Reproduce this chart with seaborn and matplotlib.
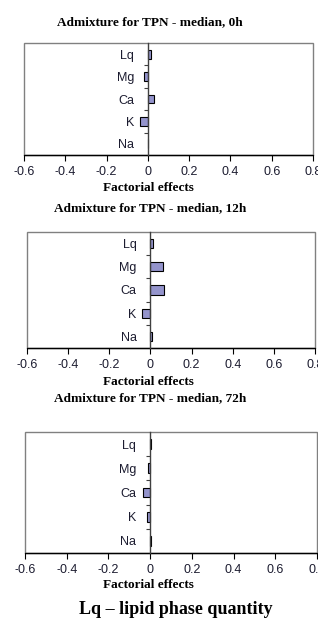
import matplotlib
matplotlib.use("Agg")
import matplotlib.pyplot as plt
import seaborn as sns
import pandas as pd
from matplotlib.patches import Rectangle

# factors, top to bottom
factors = ['Lq', 'Mg', 'Ca', 'K', 'Na']

# factorial effects
effects_0h = [0.015, -0.018, 0.030, -0.036, 0.003]
effects_12h = [0.013, 0.060, 0.068, -0.040, 0.010]
effects_72h = [0.002, -0.008, -0.032, -0.014, 0.002]

titles = ['Admixture for TPN - median, 0h',
          'Admixture for TPN - median, 12h',
          'Admixture for TPN - median, 72h']
x_ticks = [-0.6, -0.4, -0.2, 0, 0.2, 0.4, 0.6, 0.8]
x_ticklabels = ['-0.6', '-0.4', '-0.2', '0', '0.2', '0.4', '0.6', '0.8']
caption = 'Lq \u2013 lipid phase quantity'

sns.set_style('white')
plt.rcParams['font.family'] = ['Liberation Sans', 'DejaVu Sans']

W, H = 318, 621
fig = plt.figure(figsize=(W / 100, H / 100), dpi=100)

serif = ['Liberation Serif', 'DejaVu Serif']
bar_color = '#9494CC'
text_color = '#1c1c30'

# (left, right, top, bottom, title_y, xlabel_y) in pixels
panels = [
    (24, 313, 43, 155, 22, 188),
    (27, 315, 232, 348, 208, 382),
    (25, 317, 432, 553, 398, 585),
]
all_effects = [effects_0h, effects_12h, effects_72h]

for (l, r, t, b, ty, ly), vals, title in zip(panels, all_effects, titles):
    ax = fig.add_axes([l / W, 1 - b / H, (r - l) / W, (b - t) / H])
    df = pd.DataFrame({'factor': factors, 'effect': vals})
    sns.barplot(data=df, x='effect', y='factor', orient='h', color=bar_color,
                saturation=1, width=0.4, edgecolor='black', linewidth=0.8, ax=ax)
    ax.set_xlim(-0.6, 0.8)
    ax.set_ylim(4.5, -0.5)

    # frame
    for s in ['top', 'right', 'bottom']:
        ax.spines[s].set_visible(False)
    ax.add_patch(Rectangle((0, 0), 1, 1, transform=ax.transAxes, fill=False,
                           edgecolor='#808080', linewidth=1.0, clip_on=False, zorder=0))
    ax.axhline(4.5, color='black', linewidth=1.0, clip_on=False)
    ax.spines['left'].set_position(('data', 0))
    ax.spines['left'].set_color('#404040')
    ax.spines['left'].set_linewidth(1.0)

    ax.set_xticks(x_ticks)
    ax.set_xticklabels(x_ticklabels)
    ax.tick_params(axis='x', direction='out', length=4, width=0.8, colors='black',
                   labelcolor=text_color, labelsize=9, pad=4, bottom=True)
    ax.set_yticks(range(len(factors)))
    ax.set_yticklabels(factors)
    ax.set_yticks([0.5, 1.5, 2.5, 3.5], minor=True)
    ax.tick_params(axis='y', which='major', length=0, pad=10,
                   labelcolor=text_color, labelsize=9)
    ax.tick_params(axis='y', which='minor', direction='out', length=3, width=0.8,
                   color='#404040', left=True)
    ax.set_ylabel('')
    ax.set_xlabel('')

    fig.text(150 / W, 1 - ty / H, title, ha='center', va='center',
             family=serif, fontweight='bold', fontsize=9.5, color='black')
    fig.text(148 / W, 1 - ly / H, 'Factorial effects', ha='center', va='center',
             family=serif, fontweight='bold', fontsize=9.5, color='black')

fig.text(176 / W, 1 - 610 / H, caption, ha='center', va='center',
         family=serif, fontweight='bold', fontsize=13, color='black')

fig.savefig('out.png', dpi=100)
